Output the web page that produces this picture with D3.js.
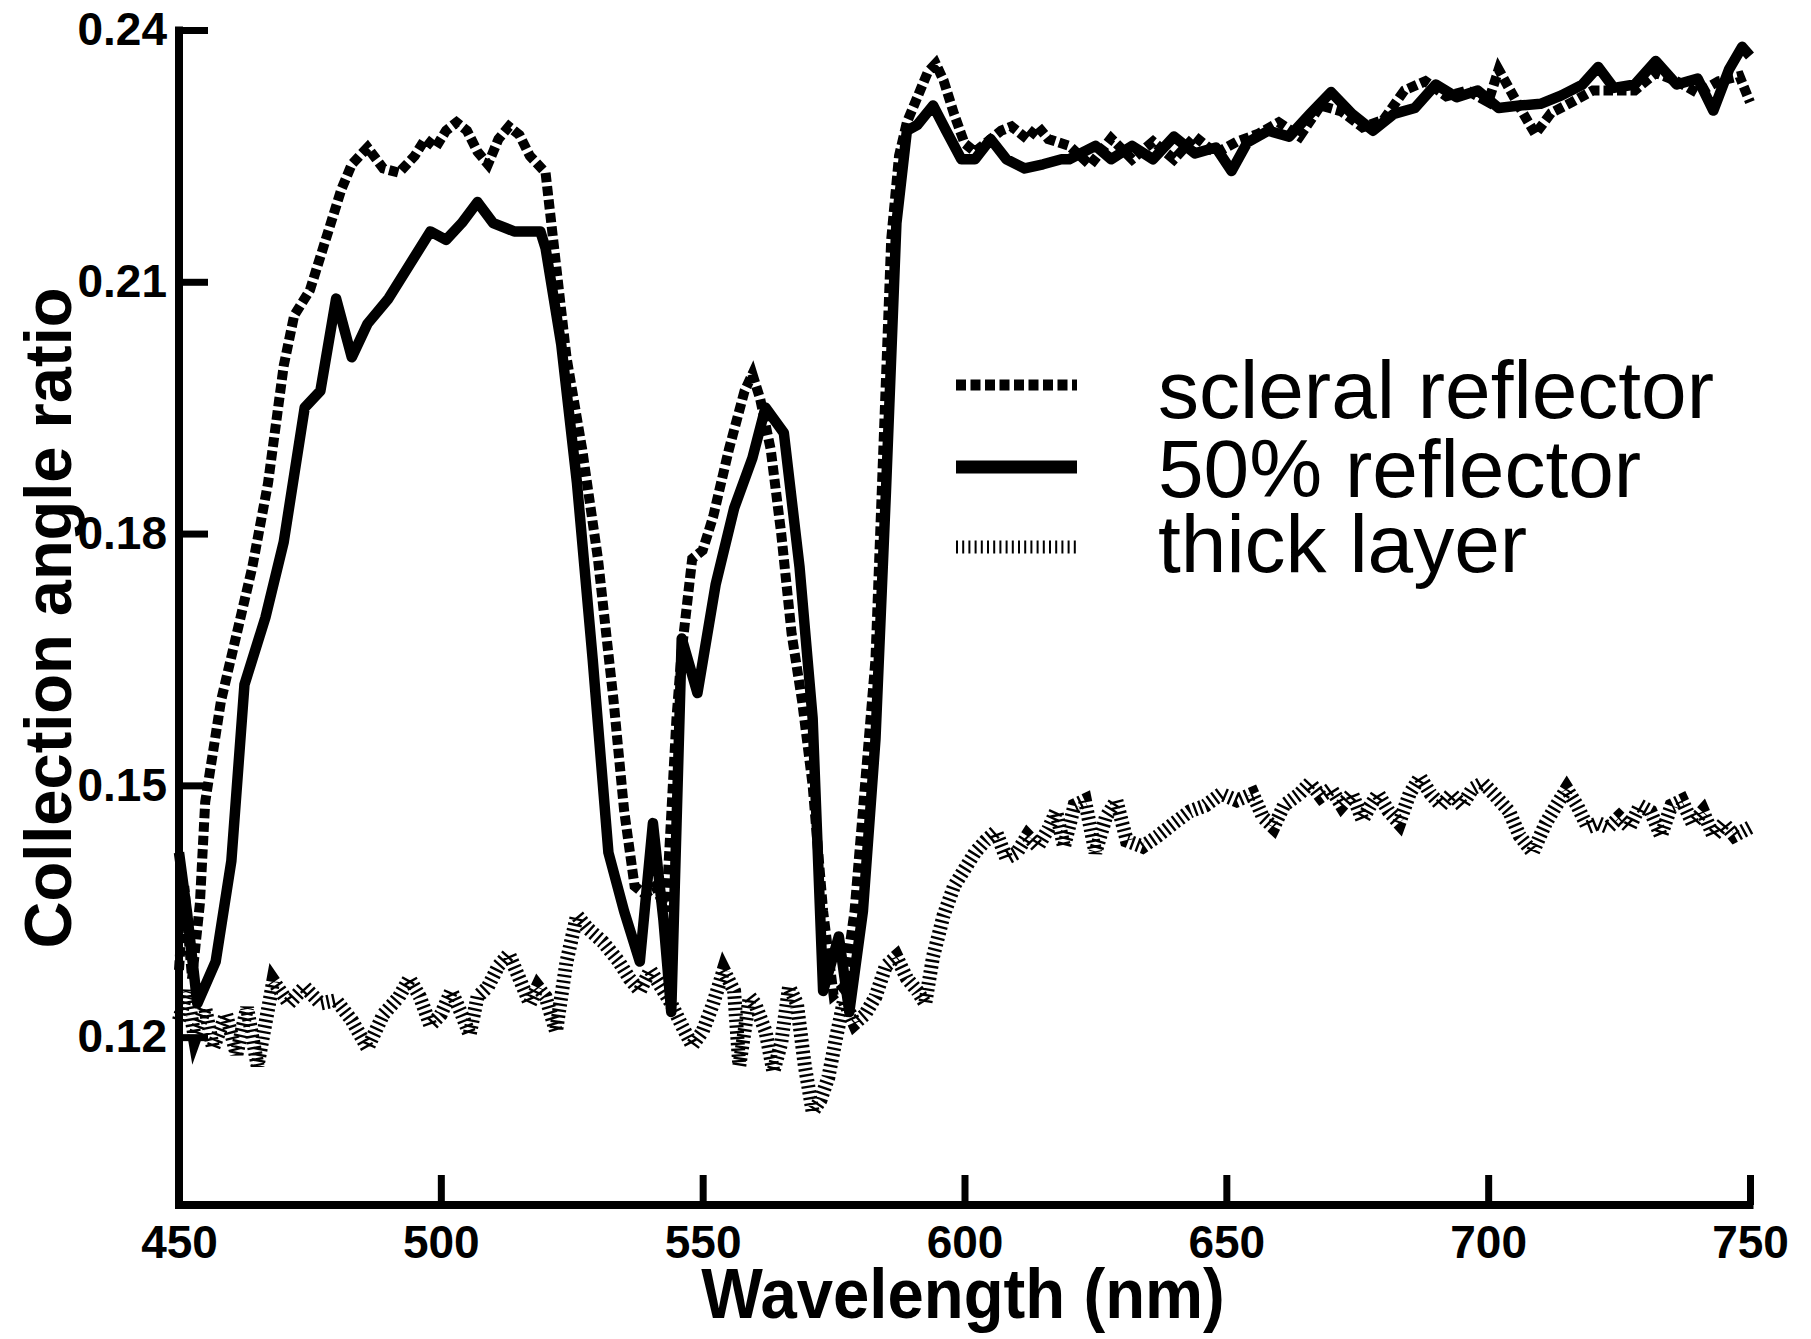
<!DOCTYPE html>
<html>
<head>
<meta charset="utf-8">
<script src="https://cdn.jsdelivr.net/npm/d3@7"></script>
<style>
  html, body { margin: 0; padding: 0; background: #fff; }
  svg { display: block; }
  text { font-family: "Liberation Sans", Arial, Helvetica, sans-serif; fill: #000; }
</style>
</head>
<body>
<svg id="chart" width="1811" height="1339"></svg>
<script>
// ---- data ----
const xTicks = [450, 500, 550, 600, 650, 700, 750];
const yTicks = [0.12, 0.15, 0.18, 0.21, 0.24];
const xTickLabels = ["450", "500", "550", "600", "650", "700", "750"];
const yTickLabels = ["0.12", "0.15", "0.18", "0.21", "0.24"];
const seriesNames = ["scleral reflector", "50% reflector", "thick layer"];

const wlScleral = [450,451,452.5,454,455,458,461,464,467,470,472,475,478,481,483,486,489,492,495,497,499,501,503,505,507,509,511,513,515,517,520,522,524,527,530,533,535,537,539,541,543,545,546,548,550,552,555,558,559.5,561,563,565,567,569,571,573,575,577,579,581,583,584.5,586,587.5,589,591,593,594.5,596,598,600,602,605,607,609,612,614,616,620,624,628,632,636,640,644,648,652,656,660,664,668,672,676,680,684,688,692,696,700,702,706,709,712,716,720,724,728,732,736,740,744,748,750];
const scleral = [0.128,0.138,0.127,0.136,0.148,0.160,0.168,0.176,0.186,0.200,0.206,0.209,0.215,0.221,0.224,0.226,0.2235,0.223,0.225,0.227,0.226,0.228,0.229,0.228,0.2255,0.224,0.227,0.2285,0.2275,0.225,0.223,0.212,0.201,0.190,0.177,0.160,0.147,0.138,0.137,0.138,0.135,0.158,0.166,0.177,0.178,0.182,0.190,0.197,0.199,0.196,0.190,0.180,0.168,0.160,0.150,0.135,0.125,0.126,0.135,0.150,0.165,0.190,0.215,0.225,0.229,0.232,0.235,0.236,0.234,0.230,0.2265,0.2255,0.227,0.228,0.2285,0.227,0.2285,0.227,0.2262,0.2239,0.2271,0.2246,0.2267,0.2246,0.2273,0.2253,0.2267,0.2276,0.229,0.2273,0.231,0.2303,0.2284,0.2293,0.2328,0.2339,0.2321,0.2328,0.2314,0.2353,0.2308,0.2276,0.2301,0.2314,0.2328,0.2328,0.2328,0.2349,0.2339,0.2325,0.2339,0.2345,0.2314];

const wl50 = [450,451.5,453.5,457,460,462.5,466.5,470,474,477,480,483,486,490,494,498,501,504,507,510,514,519,520,523,526,529,532,535,538,540.5,542.5,544,546,549,552.5,556,559.5,562,565.5,568.5,571,573,576,578,580.6,583,585,587,589,591,594,596.5,599.4,602,605,608,611.5,615,618.5,620,625,628,632,636,640,644,648,651,654,658,662,666,670,674,678,682,686,690,694,698,702,706,710,714,718,721,724,728,732,736,740,743,746,748.5,750];
const reflector50 = [0.142,0.135,0.124,0.129,0.141,0.162,0.170,0.179,0.195,0.197,0.208,0.201,0.205,0.208,0.212,0.216,0.215,0.217,0.2195,0.217,0.216,0.216,0.214,0.2025,0.186,0.165,0.142,0.135,0.129,0.1455,0.134,0.123,0.1675,0.161,0.174,0.183,0.189,0.195,0.192,0.176,0.158,0.1255,0.132,0.123,0.135,0.1555,0.185,0.217,0.228,0.2287,0.231,0.228,0.2246,0.2246,0.227,0.2246,0.2235,0.224,0.2246,0.2246,0.2262,0.2246,0.2262,0.2246,0.2273,0.2253,0.226,0.2232,0.2266,0.228,0.2273,0.230,0.2326,0.230,0.228,0.230,0.2307,0.2335,0.232,0.2328,0.2307,0.231,0.2312,0.2322,0.2335,0.2356,0.2331,0.2335,0.2363,0.2335,0.2342,0.2304,0.2353,0.238,0.2369];

const wlThick = [450,451.5,453,455,456.5,459,461,463,465,468,471,474,477,480,483,486,489,492,494,496,498,500,502,504,505.5,507,509,511,513,515,517,518.5,520,522,524,526,528,531,534,536,538,540,542,544,546,548,550,552,554,556,557,559,560,562,563.5,565,566.5,568,569.5,571,572.5,574,575.5,577,579,581,583,585,587,589,591,592.5,594,596,598,600,602,604,606,608,610,612,614,616,617.5,619,621,623,625,627,629,631,634,637,640,643,646,649,652,655,657,659,661,664,666,668,670,672,674,676,677.5,679,681,683,685,687,689,691,693,695,697,699,701,704,706,708.5,711,713,715,717,719,721,723,725,727,729,731,733,735,737,739,741,743,745,747,750];
const thickLayer = [0.122,0.1255,0.120,0.1235,0.1187,0.1227,0.118,0.1235,0.1166,0.1267,0.124,0.126,0.124,0.1244,0.122,0.1187,0.1227,0.1248,0.127,0.1248,0.1214,0.1227,0.1255,0.1227,0.1203,0.1248,0.126,0.1285,0.1299,0.127,0.124,0.126,0.1248,0.1207,0.129,0.1345,0.133,0.1313,0.129,0.127,0.1255,0.128,0.126,0.124,0.1214,0.119,0.1207,0.124,0.128,0.1255,0.1166,0.1248,0.124,0.1207,0.1159,0.1193,0.126,0.124,0.1166,0.1111,0.1125,0.1152,0.120,0.1244,0.1216,0.1227,0.1248,0.1285,0.1296,0.127,0.1255,0.124,0.1296,0.1345,0.138,0.140,0.142,0.1434,0.1445,0.1413,0.142,0.144,0.1427,0.1448,0.1469,0.1427,0.1476,0.1482,0.142,0.1462,0.1482,0.1434,0.1427,0.144,0.1455,0.1469,0.1476,0.149,0.1482,0.149,0.1462,0.145,0.1476,0.149,0.1503,0.1487,0.1496,0.1476,0.149,0.1459,0.1476,0.149,0.1469,0.1455,0.149,0.151,0.149,0.1476,0.149,0.1476,0.1496,0.1503,0.149,0.1469,0.144,0.142,0.1455,0.1476,0.1496,0.1476,0.145,0.1455,0.145,0.1462,0.145,0.1476,0.1469,0.144,0.1476,0.1482,0.1455,0.1469,0.144,0.1455,0.144,0.145];

// ---- layout ----
const svg = d3.select("#chart");
const x = d3.scaleLinear().domain([450, 750]).range([179, 1750]);
const y = d3.scaleLinear().domain([0.10, 0.24]).range([1205, 30]);

const zip = (xs, ys) => xs.map((v, i) => [v, ys[i]]);
const line = d3.line().x(d => x(d[0])).y(d => y(d[1]));

const g = svg.append("g");

// thick layer: hatched line
g.append("path")
  .datum(zip(wlThick, thickLayer))
  .attr("d", line)
  .attr("fill", "none")
  .attr("stroke", "#000")
  .attr("stroke-width", 14)
  .attr("stroke-dasharray", "2.4,3.4")
  .attr("stroke-linejoin", "miter");

// 50% reflector: solid
g.append("path")
  .datum(zip(wl50, reflector50))
  .attr("d", line)
  .attr("fill", "none")
  .attr("stroke", "#000")
  .attr("stroke-width", 10.5)
  .attr("stroke-linejoin", "round");

// scleral: square dots
g.append("path")
  .datum(zip(wlScleral, scleral))
  .attr("d", line)
  .attr("fill", "none")
  .attr("stroke", "#000")
  .attr("stroke-width", 10)
  .attr("stroke-dasharray", "9.5,4")
  .attr("stroke-linejoin", "miter");

// ---- axes ----
const xAxis = d3.axisBottom(x).tickValues(xTicks).tickFormat((d, i) => xTickLabels[i])
  .tickSizeInner(-30).tickSizeOuter(0).tickPadding(20);
const yAxis = d3.axisLeft(y).tickValues(yTicks).tickFormat((d, i) => yTickLabels[i])
  .tickSizeInner(-30).tickSizeOuter(0).tickPadding(12);

const gx = svg.append("g").attr("transform", "translate(0,1205)").call(xAxis);
const gy = svg.append("g").attr("transform", "translate(179,0)").call(yAxis);

[gx, gy].forEach(a => {
  a.select(".domain").attr("stroke", "#000").attr("stroke-width", 8);
  a.selectAll(".tick line").attr("stroke", "#000").attr("stroke-width", 7);
  a.selectAll(".tick text")
    .attr("font-family", "\"Liberation Sans\", Arial, sans-serif")
    .attr("font-weight", "bold")
    .attr("font-size", 46)
    .attr("fill", "#000");
});
gy.select(".domain").attr("d", `M0,${y(0.24) - 3.5}V${y(0.10) + 4}`);
gx.select(".domain").attr("d", `M${x(450) - 4},0H${x(750) + 3.5}`);
gy.selectAll(".tick line").attr("transform", "translate(-1,0)");

// axis titles
svg.append("text")
  .attr("transform", "translate(963,1318) scale(0.92,1)")
  .attr("text-anchor", "middle")
  .attr("font-weight", "bold")
  .attr("font-size", 71)
  .text("Wavelength (nm)");

svg.append("text")
  .attr("transform", "translate(71,618) rotate(-90) scale(0.97,1)")
  .attr("text-anchor", "middle")
  .attr("font-weight", "bold")
  .attr("font-size", 67)
  .text("Collection angle ratio");

// ---- legend ----
const legY = [385, 467, 547];
const legText = [418, 497, 572];
const leg = svg.append("g");
const legStyles = [
  {w: 11, dash: "10,4.5"},
  {w: 13, dash: null},
  {w: 13, dash: "2,4.2"}
];
legStyles.forEach((s, i) => {
  const p = leg.append("line")
    .attr("x1", 956).attr("x2", 1077)
    .attr("y1", legY[i]).attr("y2", legY[i])
    .attr("stroke", "#000")
    .attr("stroke-width", s.w);
  if (s.dash) p.attr("stroke-dasharray", s.dash);
  leg.append("text")
    .attr("x", 1158).attr("y", legText[i])
    .attr("font-size", 82)
    .text(seriesNames[i]);
});
</script>
</body>
</html>
